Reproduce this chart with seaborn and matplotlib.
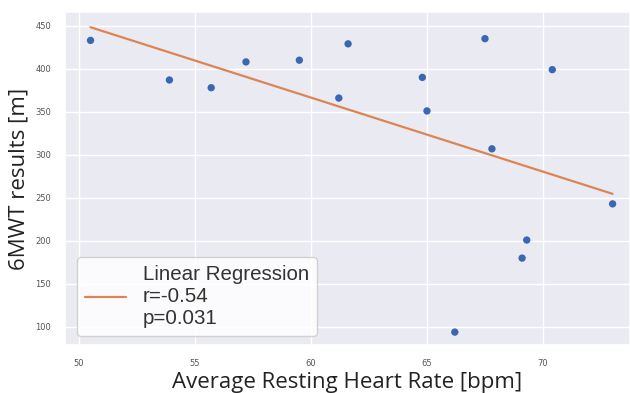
import numpy as np
import pandas as pd
import matplotlib
matplotlib.use("Agg")
import matplotlib.pyplot as plt
import seaborn as sns

heart_rate = [50.5, 53.9, 55.7, 57.2, 59.5, 61.2, 61.6, 64.8, 65.0, 67.5, 67.8, 70.4, 73.0, 69.3, 69.1, 66.2]
six_mwt = [433, 387, 378, 408, 410, 366, 429, 390, 351, 435, 307, 399, 243, 201, 180, 94]
x_ticks = [50, 55, 60, 65, 70]
y_ticks = [100, 150, 200, 250, 300, 350, 400, 450]
legend_label = "Linear Regression\nr=-0.54\np=0.031"

sns.set_theme(style="darkgrid")

df = pd.DataFrame({"hr": heart_rate, "mwt": six_mwt})
fig = plt.figure(figsize=(6.3, 3.93), dpi=100)
ax = fig.add_axes([65/630, 48/393, 565/630, 333/393])

sns.scatterplot(data=df, x="hr", y="mwt", ax=ax, color="#3b66b3", s=28, edgecolor="none", zorder=3)

slope, intercept = np.polyfit(df["hr"], df["mwt"], 1)
xs = np.array([min(heart_rate), max(heart_rate)])
sns.lineplot(x=xs, y=slope * xs + intercept, ax=ax, color="#dd8452", linewidth=1.6,
             label=legend_label, zorder=2)

ax.set_xlim(49.4, 73.75)
ax.set_ylim(79, 466)
ax.set_xticks(x_ticks)
ax.set_yticks(y_ticks)
ax.tick_params(axis="x", labelsize=6, labelcolor="#555555", pad=4)
ax.tick_params(axis="y", labelsize=6, labelcolor="#555555", pad=4)
ax.set_xlabel("Average Resting Heart Rate [bpm]", fontsize=16, family="Open Sans", color="#222222")
ax.set_ylabel("6MWT results [m]", fontsize=16, family="Open Sans", color="#222222")
ax.xaxis.set_label_coords(0.5, -0.08)
ax.yaxis.set_label_coords(-0.062, 0.5)

leg = ax.legend(loc="lower left", bbox_to_anchor=(0.021, 0.027), borderaxespad=0,
                prop={"family": "Liberation Sans", "size": 14.8}, handlelength=2.0,
                handletextpad=0.8, labelspacing=0.3,
                frameon=True, facecolor="white", framealpha=0.85)
for t in leg.get_texts():
    t.set_color("#333333")

fig.savefig("out.png", dpi=100)
